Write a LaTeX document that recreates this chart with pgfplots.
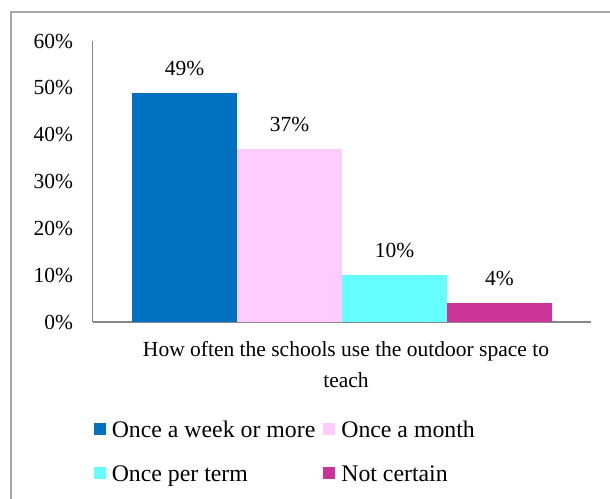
\documentclass[border=0pt]{standalone}
\usepackage{pgfplots}
\pgfplotsset{compat=1.18}
\usepackage{fontspec}
\setmainfont{Liberation Serif}
\definecolor{weekBlue}{HTML}{0070C0}
\definecolor{monthPink}{HTML}{FFCCFF}
\definecolor{termCyan}{HTML}{66FFFF}
\definecolor{notMagenta}{HTML}{CC3399}
\definecolor{frameGray}{HTML}{A6A6A6}
\definecolor{axisGray}{HTML}{868686}
\newcommand{\chartfont}{\fontsize{21.5}{26}\selectfont}

\begin{document}
\begin{tikzpicture}[x=1pt,y=1pt]
\useasboundingbox (0,0) rectangle (610,498);
\clip (0,0) rectangle (610,498);
% outer chart frame (runs off the right and bottom edge)
\draw[frameGray, line width=2pt] (10.5,-10) -- (10.5,486.3) -- (620,486.3);
\begin{axis}[
    at={(92.6pt,176pt)}, anchor=south west,
    scale only axis, width=498.8pt, height=281pt,
    /pgf/number format/assume math mode=true,
    axis x line=bottom, axis y line=left,
    axis line style={-, draw=axisGray, line width=1.2pt},
    ybar=0pt, bar width=105pt,
    xmin=-1, xmax=1, xtick=\empty,
    ymin=0, ymax=60, ytick={0,10,...,60},
    major tick length=0pt,
    yticklabel={\pgfmathprintnumber{\tick}\%},
    yticklabel style={font=\chartfont, xshift=-16pt},
    nodes near coords={\pgfmathprintnumber{\pgfplotspointmeta}\%},
    nodes near coords style={font=\chartfont, anchor=south, yshift=13.5pt, text=black},
    xlabel={How often the schools use the outdoor space to\\teach},
    xlabel style={at={(axis description cs:0.5,0)}, anchor=north, yshift=-16pt, xshift=4pt,
        align=center, font=\fontsize{21.5}{31}\selectfont},
    legend columns=2,
    legend cell align=left,
    legend image code/.code={\fill[#1] (0pt,-5pt) rectangle (12pt,7pt);},
    legend style={at={(axis description cs:0,0)}, anchor=north west, xshift=-2pt, yshift=-95pt,
        draw=none, fill=none, font=\fontsize{23.8}{28}\selectfont,
        nodes={inner xsep=0pt, inner ysep=2pt},
        row sep=22.5pt,
        /tikz/every odd column/.append style={column sep=6pt},
        /tikz/every even column/.append style={column sep=8pt}},
]
\addplot[fill=weekBlue, draw=none] coordinates {(0,49)};
\addplot[fill=monthPink, draw=none] coordinates {(0,37)};
\addplot[fill=termCyan, draw=none] coordinates {(0,10)};
\addplot[fill=notMagenta, draw=none] coordinates {(0,4)};
\legend{Once a week or more, Once a month, Once per term, Not certain}
\end{axis}
\end{tikzpicture}
\end{document}
